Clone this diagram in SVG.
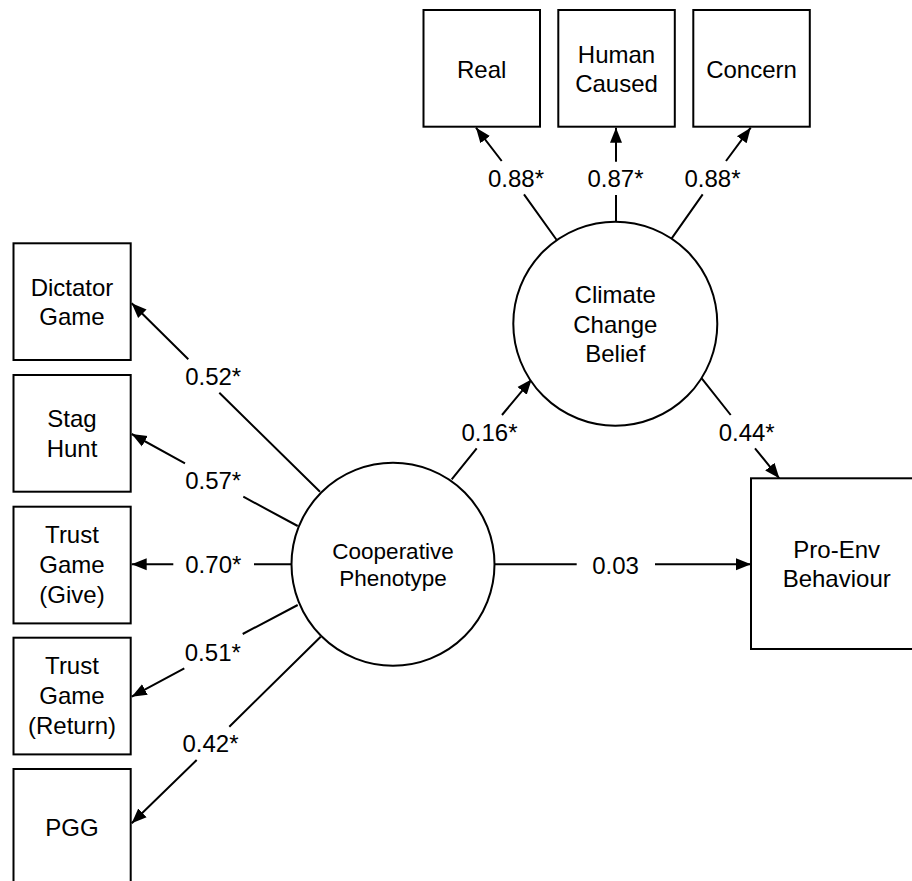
<svg xmlns="http://www.w3.org/2000/svg" width="912" height="881" viewBox="0 0 912 881">
<style>
  .box { fill: #fff; stroke: #000; stroke-width: 2; }
  .lat { fill: #fff; stroke: #000; stroke-width: 2; }
  .t { font-family: "Liberation Sans", Arial, Helvetica, sans-serif; font-size: 24px; fill: #000; text-anchor: middle; }
  .tc { font-family: "Liberation Sans", Arial, Helvetica, sans-serif; font-size: 22.5px; fill: #000; text-anchor: middle; }
  .lbl { font-family: "Liberation Sans", Arial, Helvetica, sans-serif; font-size: 24px; fill: #000; text-anchor: middle; }
  .c { fill: none; stroke: #000; stroke-width: 2; marker-end: url(#arr); }
</style>
<defs>
  <marker id="arr" markerUnits="userSpaceOnUse" markerWidth="16" markerHeight="14" viewBox="0 -7 16 14" refX="15" refY="0" orient="auto">
    <path d="M0,-6 L15,0 L0,6 z" fill="#000"/>
  </marker>
</defs>
<rect width="912" height="881" fill="#fff"/>

<g id="connectors">
  <path class="c" d="M451.7,479.3 L476.7,448.3 M502,415 L531.7,379.3"/>
  <path class="c" d="M701.7,378.3 L730.7,415 M755,448.3 L779.3,478.3"/>
  <path class="c" d="M494.5,564.3 L576.7,564.3 M655,564.3 L751,564.3"/>
  <path class="c" d="M556.7,240 L524,194.3 M501.7,161 L476,127.7"/>
  <path class="c" d="M616,221.7 L616,195 M616,161.7 L616,127.7"/>
  <path class="c" d="M671.7,238.3 L702.7,194.3 M726,161 L750.7,127.7"/>
  <path class="c" d="M320,491.7 L219.3,392.7 M188.3,359.3 L131.7,303.3"/>
  <path class="c" d="M297.7,526 L243.3,496.7 M185,463.3 L131.7,434"/>
  <path class="c" d="M291.5,564.3 L254,564.3 M173.3,564.3 L131.7,564.3"/>
  <path class="c" d="M297.7,605 L242.7,634 M184.3,668.3 L131.7,696.7"/>
  <path class="c" d="M320.7,636.7 L229.3,726.7 M196.7,760 L131.7,823.3"/>
  <text class="lbl" x="489.5" y="441">0.16*</text>
  <text class="lbl" x="746.7" y="441">0.44*</text>
  <text class="lbl" x="615.5" y="574">0.03</text>
  <text class="lbl" x="516" y="186.5">0.88*</text>
  <text class="lbl" x="615.5" y="186.5">0.87*</text>
  <text class="lbl" x="712.5" y="186.5">0.88*</text>
  <text class="lbl" x="213.2" y="385">0.52*</text>
  <text class="lbl" x="213.2" y="489">0.57*</text>
  <text class="lbl" x="213.3" y="573.3">0.70*</text>
  <text class="lbl" x="212.8" y="660.7">0.51*</text>
  <text class="lbl" x="210.5" y="752.3">0.42*</text>
</g>

<g id="real">
  <rect class="box" x="423.5" y="10" width="116.5" height="116.7"/>
  <text class="t" x="481.7" y="78.3">Real</text>
</g>
<g id="human-caused">
  <rect class="box" x="558.3" y="10" width="116.5" height="116.7"/>
  <text class="t" x="616.5" y="63.3">Human</text>
  <text class="t" x="616.5" y="91.8">Caused</text>
</g>
<g id="concern">
  <rect class="box" x="693.3" y="10" width="116.5" height="116.7"/>
  <text class="t" x="751.5" y="78.3">Concern</text>
</g>

<g id="dictator-game">
  <rect class="box" x="13.5" y="243.3" width="117.2" height="116.7"/>
  <text class="t" x="72" y="295.7">Dictator</text>
  <text class="t" x="72" y="325">Game</text>
</g>
<g id="stag-hunt">
  <rect class="box" x="13.5" y="375" width="117.2" height="116.7"/>
  <text class="t" x="72" y="426.7">Stag</text>
  <text class="t" x="72" y="456.7">Hunt</text>
</g>
<g id="trust-give">
  <rect class="box" x="13.5" y="506.7" width="117.2" height="116.7"/>
  <text class="t" x="72" y="543.3">Trust</text>
  <text class="t" x="72" y="573.3">Game</text>
  <text class="t" x="72" y="602.7">(Give)</text>
</g>
<g id="trust-return">
  <rect class="box" x="13.5" y="637.7" width="117.2" height="116.7"/>
  <text class="t" x="72" y="674.3">Trust</text>
  <text class="t" x="72" y="704.3">Game</text>
  <text class="t" x="72" y="734">(Return)</text>
</g>
<g id="pgg">
  <rect class="box" x="13.5" y="769" width="117.2" height="116.7"/>
  <text class="t" x="72" y="835.7">PGG</text>
</g>

<g id="pro-env-behaviour">
  <rect class="box" x="751" y="478.3" width="170" height="170.7"/>
  <text class="t" x="836.7" y="558.3">Pro-Env</text>
  <text class="t" x="836.7" y="586.7">Behaviour</text>
</g>

<g id="climate-change-belief">
  <circle class="lat" cx="615.3" cy="323.7" r="102"/>
  <text class="t" x="615.3" y="303.3">Climate</text>
  <text class="t" x="615.3" y="332.7">Change</text>
  <text class="t" x="615.3" y="362.3">Belief</text>
</g>

<g id="cooperative-phenotype">
  <circle class="lat" cx="393" cy="564.3" r="101.5"/>
  <text class="tc" x="393" y="559.3">Cooperative</text>
  <text class="tc" x="393" y="586">Phenotype</text>
</g>
</svg>
